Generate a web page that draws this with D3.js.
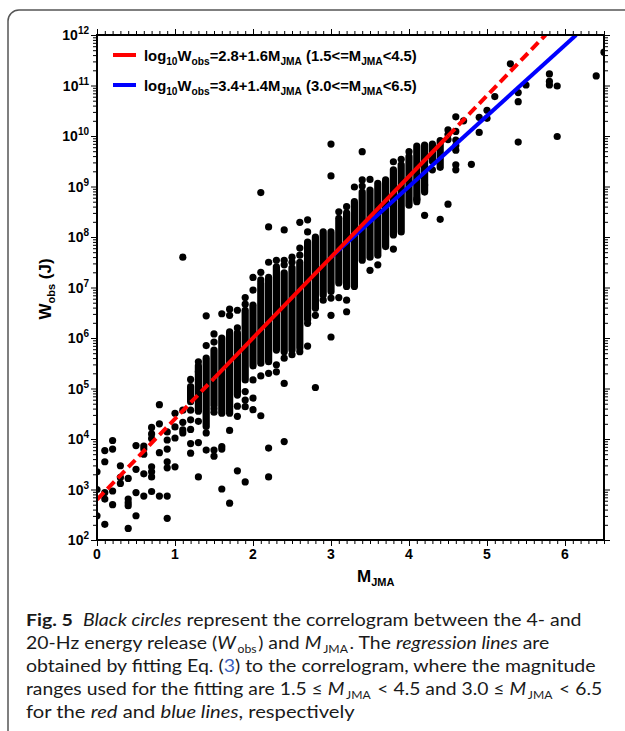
<!DOCTYPE html>
<html>
<head>
<meta charset="utf-8">
<script src="https://cdn.jsdelivr.net/npm/d3@7"></script>
<style>
  html, body { margin: 0; padding: 0; background: #fff; }
  svg { display: block; }
</style>
</head>
<body>
<script>
// ---- data (log10 of W_obs in J) ----
// dense columns of overlapping circles: magnitude, top and bottom of the column
const colMag = [1.2, 1.3, 1.4, 1.5, 1.6, 1.7, 1.8, 1.9, 2.0, 2.1, 2.2, 2.3, 2.4, 2.5, 2.6, 2.7, 2.8,
                2.9, 3.0, 3.1, 3.2, 3.3, 3.4, 3.5, 3.6, 3.7, 3.8, 3.9, 4.0, 4.1, 4.2, 4.3, 4.4];
const colTop = [5.04, 5.45, 5.6, 5.76, 6.0, 6.12, 6.10, 6.55, 6.65, 7.09, 7.2, 7.41, 7.29, 7.39, 7.5, 7.9, 8.0,
                8.1, 8.1, 8.37, 8.48, 8.7, 8.89, 8.93, 9.06, 9.13, 9.33, 9.43, 9.59, 9.8, 9.82, 9.84, 9.91];
const colBot = [4.74, 4.55, 4.25, 4.67, 4.51, 4.51, 4.87, 5.17, 5.45, 5.5, 5.53, 5.76, 5.73, 5.76, 5.8, 6.36, 6.59,
                6.85, 6.92, 7.09, 7.02, 7.02, 7.54, 7.6, 7.64, 7.81, 8.04, 8.1, 8.63, 8.7, 8.89, 9.5, 9.38];

// single circles, grouped by magnitude
const dotMag = [0.0, 0.1, 0.2, 0.3, 0.4, 0.5, 0.6, 0.7, 0.8, 0.9, 1.0, 1.1, 1.2, 1.3, 1.4, 1.5, 1.6, 1.7,
                1.8, 1.9, 2.0, 2.1, 2.2, 2.3, 2.4, 2.5, 2.6, 2.7, 2.8, 2.9, 3.0, 3.1, 3.2, 3.3, 3.4, 3.5,
                3.6, 3.8, 3.9, 4.0, 4.1, 4.2, 4.3, 4.4, 4.5, 4.6, 4.7, 4.8, 4.9, 5.0, 5.1, 5.3, 5.4, 5.5,
                5.8, 5.9, 6.4, 6.5];
const dotLogW = [
  [3.35, 3.0, 2.48],
  [3.77, 3.55, 2.94, 2.81, 2.31],
  [3.97, 3.8, 2.97, 2.7],
  [3.47, 3.24, 3.12],
  [3.22, 2.81, 2.74, 2.68, 2.23],
  [3.87, 3.4, 2.94, 2.48],
  [3.86, 3.8, 3.7, 3.31, 2.87],
  [4.23, 4.1, 4.01, 3.45, 3.35, 3.25, 2.96],
  [4.68, 4.3, 3.73, 2.87],
  [4.14, 3.98, 3.8, 3.55, 3.43, 2.87, 2.43],
  [4.51, 4.24, 4.02, 3.45],
  [7.6, 4.57, 4.33, 4.18, 4.12],
  [5.18, 4.57, 4.38, 4.19, 3.91, 3.72],
  [5.53, 5.33, 4.35, 3.93, 3.25],
  [6.44, 5.85, 4.12, 3.78],
  [6.08, 5.92, 4.6, 4.53, 3.78, 3.66],
  [6.48, 3.85, 3.8, 3.01],
  [6.57, 6.45, 4.17, 2.73],
  [6.55, 6.2, 4.65, 4.45, 3.37],
  [6.8, 6.67, 4.94, 4.77, 4.64, 3.15],
  [7.2, 6.95, 5.17, 4.81, 4.58],
  [8.88, 7.3, 7.15, 5.25, 4.46],
  [8.2, 7.5, 5.3, 3.82, 3.25],
  [7.54, 5.47, 5.33],
  [8.14, 7.54, 7.45, 5.6, 5.1, 3.95],
  [7.6, 7.5, 5.67],
  [8.29, 7.78, 7.64, 5.73],
  [8.34, 8.1, 6.29, 5.84],
  [6.45, 5.02],
  [6.75],
  [9.84, 9.21, 6.79, 6.45, 6.02],
  [8.5, 6.8],
  [8.6, 6.75, 6.52],
  [8.99],
  [9.69, 9.13, 9.01],
  [9.14, 7.34],
  [7.45],
  [9.49, 7.76],
  [9.54],
  [9.69],
  [8.75],
  [9.03, 8.43],
  [9.33],
  [8.35],
  [10.12, 10.03, 9.93, 8.65],
  [10.38, 10.09, 9.92, 9.81, 9.72, 9.43, 9.33],
  [10.3],
  [9.44],
  [10.37, 10.07],
  [10.51, 10.35],
  [10.78],
  [11.43],
  [10.86, 10.68, 9.88],
  [11.01],
  [11.23, 11.08, 11.01],
  [10.99, 9.99],
  [11.19],
  [11.66]
];

// regression lines: log10 W = a + b * M
const fits = [
  { name: "red",  a: 2.8, b: 1.6, from: 1.5, to: 4.5, color: "#ff0000", range: "1.5<=M", upper: "<4.5)" },
  { name: "blue", a: 3.4, b: 1.4, from: 3.0, to: 6.5, color: "#0000ff", range: "3.0<=M", upper: "<6.5)" }
];

const xTicks = [0, 1, 2, 3, 4, 5, 6];
const yDecades = [2, 3, 4, 5, 6, 7, 8, 9, 10, 11, 12];

// ---- chart ----
const width = 625, height = 731;
const plot = { left: 97, right: 604, top: 35, bottom: 540 };
const dotR = 3.6;
const axisFont = "'Liberation Sans', Arial, Helvetica, sans-serif";

const svg = d3.select("body").append("svg")
    .attr("width", width)
    .attr("height", height);

// outer box of the figure (cut off on the right and bottom)
svg.append("path")
    .attr("d", "M8,731 V21 A11,11 0 0 1 19,10 H625")
    .attr("fill", "none")
    .attr("stroke", "#555")
    .attr("stroke-width", 1.5);

const x = d3.scaleLinear().domain([0, 6.5]).range([plot.left, plot.right]);
const y = d3.scaleLinear().domain([2, 12]).range([plot.bottom, plot.top]);

svg.append("clipPath").attr("id", "clip")
  .append("rect")
    .attr("x", plot.left).attr("y", plot.top)
    .attr("width", plot.right - plot.left).attr("height", plot.bottom - plot.top);

const marks = svg.append("g").attr("clip-path", "url(#clip)");

// dense columns drawn as round-capped strokes one circle wide
marks.append("g")
  .selectAll("line")
  .data(colMag.map((m, i) => ({ m, top: colTop[i], bot: colBot[i] })))
  .join("line")
    .attr("x1", d => x(d.m))
    .attr("x2", d => x(d.m))
    .attr("y1", d => y(d.top))
    .attr("y2", d => y(d.bot))
    .attr("stroke", "#000")
    .attr("stroke-width", dotR * 2)
    .attr("stroke-linecap", "round");

const dots = dotMag.flatMap((m, i) => dotLogW[i].map(v => ({ m, v })));
marks.append("g")
  .selectAll("circle")
  .data(dots)
  .join("circle")
    .attr("cx", d => x(d.m))
    .attr("cy", d => y(d.v))
    .attr("r", dotR)
    .attr("fill", "#000");

// regression lines
const line = d3.line().x(d => x(d[0])).y(d => y(d[1]));
function seg(f, m0, m1) {
  return line([[m0, f.a + f.b * m0], [m1, f.a + f.b * m1]]);
}
const red = fits[0], blue = fits[1];
const redEnd = (12 - red.a) / red.b;
const blueEnd = (12 - blue.a) / blue.b;

marks.append("path").attr("d", seg(red, 0, red.from))
    .attr("stroke", red.color).attr("stroke-width", 4).attr("fill", "none")
    .attr("stroke-dasharray", "10,5");
marks.append("path").attr("d", seg(red, red.to, redEnd))
    .attr("stroke", red.color).attr("stroke-width", 4).attr("fill", "none")
    .attr("stroke-dasharray", "10,5");
marks.append("path").attr("d", seg(blue, blue.from, blueEnd))
    .attr("stroke", blue.color).attr("stroke-width", 4).attr("fill", "none");
marks.append("path").attr("d", seg(red, red.from, red.to))
    .attr("stroke", red.color).attr("stroke-width", 4).attr("fill", "none");

// ---- axes ----
const xMinor = d3.range(0, 66).map(i => i / 10);
const yMinor = [];
yDecades.slice(0, -1).forEach(d => { for (let k = 2; k <= 9; k++) yMinor.push(d + Math.log10(k)); });

function tickAxis(axisFn, scale, values, size, transform) {
  const g = svg.append("g")
      .attr("transform", transform)
      .call(axisFn(scale).tickValues(values).tickSize(size).tickSizeOuter(0).tickFormat(""));
  g.select(".domain").remove();
  g.selectAll(".tick line").attr("stroke", "#000").attr("stroke-width", 1);
}

tickAxis(d3.axisBottom, x, xMinor, 3, `translate(0,${plot.bottom + 1})`);
tickAxis(d3.axisBottom, x, xTicks, 5, `translate(0,${plot.bottom + 1})`);
tickAxis(d3.axisTop, x, xMinor, 3, `translate(0,${plot.top - 1})`);
tickAxis(d3.axisTop, x, xTicks, 5, `translate(0,${plot.top - 1})`);
tickAxis(d3.axisLeft, y, yMinor, 3, `translate(${plot.left - 1},0)`);
tickAxis(d3.axisLeft, y, yDecades, 5, `translate(${plot.left - 1},0)`);
tickAxis(d3.axisRight, y, yMinor, 3, `translate(${plot.right + 1},0)`);
tickAxis(d3.axisRight, y, yDecades, 5, `translate(${plot.right + 1},0)`);

svg.append("rect")
    .attr("x", plot.left).attr("y", plot.top)
    .attr("width", plot.right - plot.left).attr("height", plot.bottom - plot.top)
    .attr("fill", "none").attr("stroke", "#000").attr("stroke-width", 2);

// tick labels
svg.append("g").selectAll("text")
  .data(xTicks)
  .join("text")
    .attr("x", d => x(d))
    .attr("y", 559)
    .attr("text-anchor", "middle")
    .attr("font-family", axisFont).attr("font-weight", "bold").attr("font-size", 14)
    .text(d => d);

const yLab = svg.append("g").selectAll("text")
  .data(yDecades)
  .join("text")
    .attr("x", 89)
    .attr("y", d => y(d) + 5)
    .attr("text-anchor", "end")
    .attr("font-family", axisFont).attr("font-weight", "bold").attr("font-size", 14);
yLab.append("tspan").text("10");
yLab.append("tspan").attr("dy", -6).attr("font-size", 10).text(d => d);

// axis titles
const xt = svg.append("text")
    .attr("x", 357).attr("y", 582)
    .attr("font-family", axisFont).attr("font-weight", "bold").attr("font-size", 17);
xt.append("tspan").text("M");
xt.append("tspan").attr("dy", 4).attr("font-size", 11).text("JMA");

const yt = svg.append("text")
    .attr("transform", "translate(51,289) rotate(-90)")
    .attr("text-anchor", "middle")
    .attr("font-family", axisFont).attr("font-weight", "bold").attr("font-size", 17);
yt.append("tspan").text("W");
yt.append("tspan").attr("dy", 4).attr("font-size", 11).text("obs");
yt.append("tspan").attr("dy", -4).text(" (J)");

// legend
fits.forEach((f, i) => {
  const ly = 55 + i * 30;
  svg.append("line")
      .attr("x1", 113).attr("x2", 136).attr("y1", ly).attr("y2", ly)
      .attr("stroke", f.color).attr("stroke-width", 4);
  const t = svg.append("text")
      .attr("x", 144).attr("y", ly + 6)
      .attr("font-family", axisFont).attr("font-weight", "bold").attr("font-size", 14.8);
  const parts = [
    ["log", 0], ["10", 1], ["W", 0], ["obs", 1], [`=${f.a.toFixed(1)}+${f.b.toFixed(1)}M`, 0], ["JMA", 1],
    [` (${f.range}`, 0], ["JMA", 1], [f.upper, 0]
  ];
  let sub = 0;
  parts.forEach(([s, isSub]) => {
    const dy = isSub === sub ? 0 : (isSub ? 4 : -4);
    sub = isSub;
    t.append("tspan").attr("dy", dy).attr("font-size", isSub ? 10.2 : null).text(s);
  });
});

// ---- caption ----
const capFont = "Lato, 'Open Sans', sans-serif";
const caption = [
  { y: 626, w: 556, parts: [["Fig. 5", "b"], ["  ", ""], ["Black circles", "i"], [" represent the correlogram between the 4- and", ""]] },
  { y: 649, w: 517, parts: [["20-Hz energy release (", ""], ["W", "i"], ["obs", "s"], [") and ", ""], ["M", "i"], ["JMA", "s"],
                            [". The ", ""], ["regression lines", "i"], [" are", ""]] },
  { y: 672, w: 570, parts: [["obtained by fitting Eq. (", ""], ["3", "link"], [") to the correlogram, where the magnitude", ""]] },
  { y: 695, w: 570, parts: [["ranges used for the fitting are 1.5 \u2264 ", ""], ["M", "i"], ["JMA", "s"], [" < 4.5 and 3.0 \u2264 ", ""],
                            ["M", "i"], ["JMA", "s"], [" < 6.5", ""]] },
  { y: 718, w: 329, parts: [["for the ", ""], ["red", "i"], [" and ", ""], ["blue lines", "i"], [", respectively", ""]] }
];

caption.forEach(row => {
  const t = svg.append("text")
      .attr("transform", `translate(26,${row.y})`)
      .attr("font-family", capFont).attr("font-size", 17.5).attr("fill", "#1a1a1a")
      .attr("xml:space", "preserve");
  let sub = false;
  row.parts.forEach(([s, kind]) => {
    const ts = t.append("tspan").text(s);
    const isSub = kind === "s";
    if (isSub !== sub) ts.attr("dy", isSub ? 3.5 : -3.5);
    if (!isSub && sub) ts.attr("dx", 1.5);
    sub = isSub;
    if (isSub) ts.attr("font-size", 11).attr("dx", 1.5);
    if (kind === "b") ts.attr("font-weight", "bold");
    if (kind === "i") ts.attr("font-style", "italic");
    if (kind === "link") ts.attr("fill", "#3b5fc0");
  });
  const len = t.node().getComputedTextLength();
  t.attr("transform", `translate(26,${row.y}) scale(${row.w / len},1)`);
});
</script>
</body>
</html>
